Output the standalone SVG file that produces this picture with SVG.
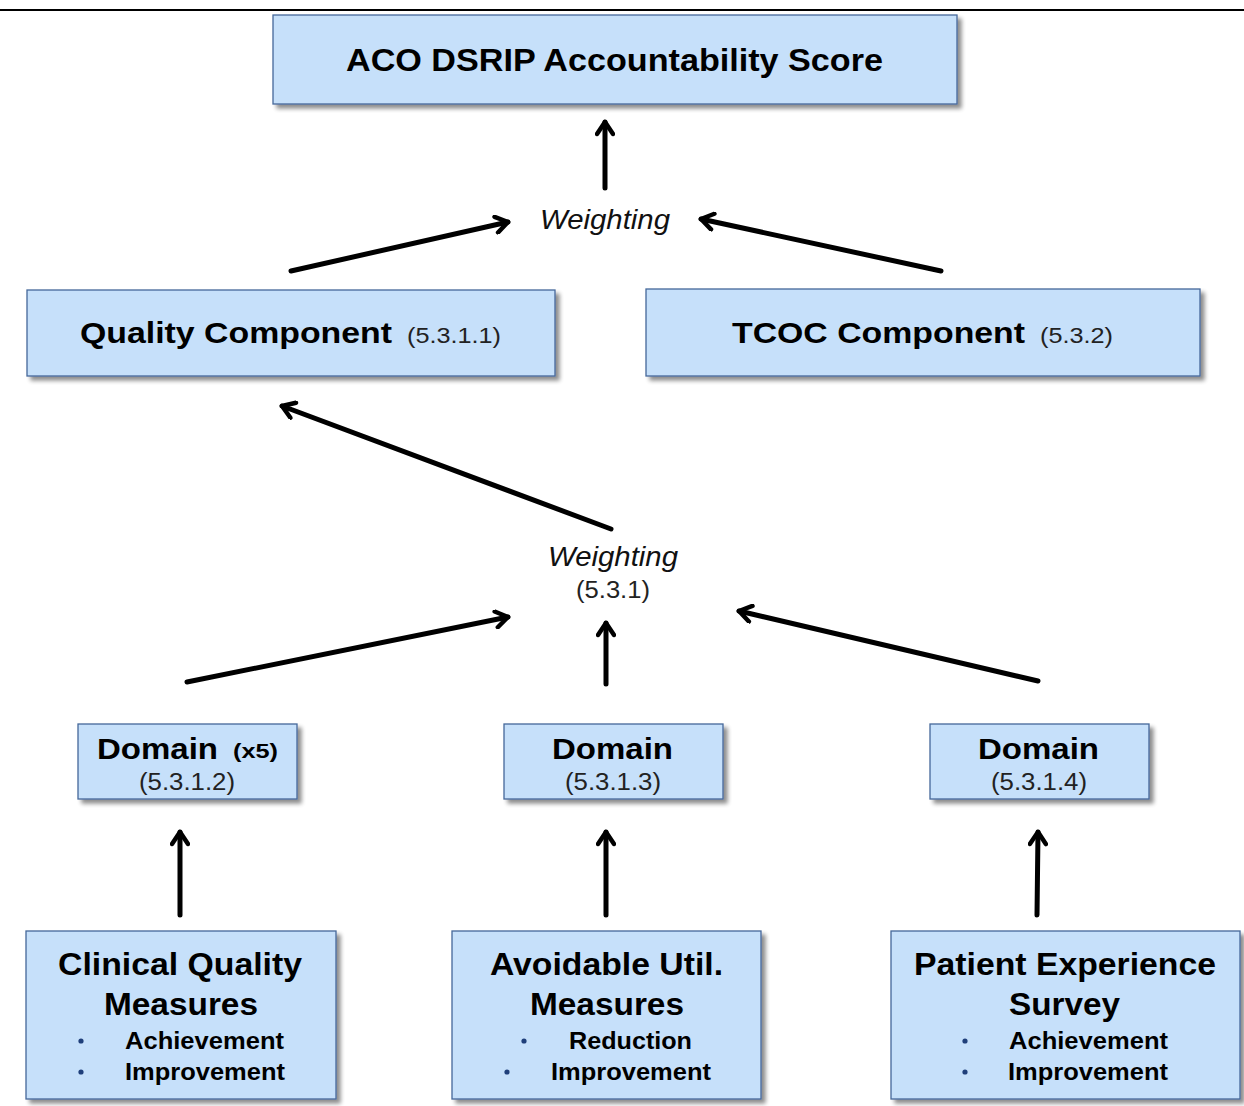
<svg xmlns="http://www.w3.org/2000/svg" width="1244" height="1106" viewBox="0 0 1244 1106">
<defs>
<filter id="sh" x="-10%" y="-10%" width="120%" height="130%">
<feGaussianBlur in="SourceAlpha" stdDeviation="2"/>
<feOffset dx="4" dy="4" result="b"/>
<feComponentTransfer><feFuncA type="linear" slope="0.45"/></feComponentTransfer>
<feMerge><feMergeNode/><feMergeNode in="SourceGraphic"/></feMerge>
</filter>
<marker id="ah" viewBox="0 0 20 20" refX="16" refY="10" markerWidth="20" markerHeight="20" markerUnits="userSpaceOnUse" orient="auto">
<path d="M4,2 L16,10 L4,18" fill="none" stroke="#000" stroke-width="4.5" stroke-linecap="round" stroke-linejoin="round"/>
</marker>
</defs>
<style>
.box{fill:#c6e0fa;stroke:#46689a;stroke-width:1.3;filter:url(#sh)}
text{font-family:"Liberation Sans",Arial,sans-serif}
.t{font-weight:bold;fill:#000}
.r{fill:#222}
.w{font-style:italic;fill:#111}
.b{fill:#1f3f7a}
.c line{stroke:#000;stroke-width:5;stroke-linecap:round;marker-end:url(#ah)}
</style>
<rect width="1244" height="1106" fill="#fff"/>
<line x1="0" y1="10" x2="1244" y2="10" stroke="#000" stroke-width="2"/>

<g id="aco">
<rect class="box" x="273" y="15" width="684" height="89"/>
<text class="t" x="346" y="71" font-size="31" textLength="537" lengthAdjust="spacingAndGlyphs">ACO DSRIP Accountability Score</text>
</g>

<g id="quality">
<rect class="box" x="27" y="290" width="528" height="86"/>
<text class="t" x="80" y="343" font-size="30" textLength="312" lengthAdjust="spacingAndGlyphs">Quality Component</text>
<text class="r" x="407" y="343" font-size="22" textLength="94" lengthAdjust="spacingAndGlyphs">(5.3.1.1)</text>
</g>

<g id="tcoc">
<rect class="box" x="646" y="289" width="554" height="87"/>
<text class="t" x="732" y="343" font-size="30" textLength="293" lengthAdjust="spacingAndGlyphs">TCOC Component</text>
<text class="r" x="1040" y="343" font-size="22" textLength="73" lengthAdjust="spacingAndGlyphs">(5.3.2)</text>
</g>

<g id="weighting1">
<text class="w" x="540" y="229" font-size="27" textLength="130" lengthAdjust="spacingAndGlyphs">Weighting</text>
</g>

<g id="weighting2">
<text class="w" x="548" y="566" font-size="27" textLength="130" lengthAdjust="spacingAndGlyphs">Weighting</text>
<text class="r" x="576" y="598" font-size="23" textLength="74" lengthAdjust="spacingAndGlyphs">(5.3.1)</text>
</g>

<g id="domain1">
<rect class="box" x="78" y="724" width="219" height="75"/>
<text class="t" x="97" y="759" font-size="30" textLength="121" lengthAdjust="spacingAndGlyphs">Domain</text>
<text class="t" x="233" y="758" font-size="21" textLength="45" lengthAdjust="spacingAndGlyphs">(x5)</text>
<text class="r" x="139" y="790" font-size="23" textLength="96" lengthAdjust="spacingAndGlyphs">(5.3.1.2)</text>
</g>

<g id="domain2">
<rect class="box" x="504" y="724" width="219" height="75"/>
<text class="t" x="552" y="759" font-size="30" textLength="121" lengthAdjust="spacingAndGlyphs">Domain</text>
<text class="r" x="565" y="790" font-size="23" textLength="96" lengthAdjust="spacingAndGlyphs">(5.3.1.3)</text>
</g>

<g id="domain3">
<rect class="box" x="930" y="724" width="219" height="75"/>
<text class="t" x="978" y="759" font-size="30" textLength="121" lengthAdjust="spacingAndGlyphs">Domain</text>
<text class="r" x="991" y="790" font-size="23" textLength="96" lengthAdjust="spacingAndGlyphs">(5.3.1.4)</text>
</g>

<g id="clinical">
<rect class="box" x="26" y="931" width="310" height="168"/>
<text class="t" x="58" y="975" font-size="31" textLength="244" lengthAdjust="spacingAndGlyphs">Clinical Quality</text>
<text class="t" x="104" y="1015" font-size="31" textLength="154" lengthAdjust="spacingAndGlyphs">Measures</text>
<circle class="b" cx="81" cy="1041" r="2.6"/>
<circle class="b" cx="81" cy="1072" r="2.6"/>
<text class="t" x="125" y="1049" font-size="23" textLength="159" lengthAdjust="spacingAndGlyphs">Achievement</text>
<text class="t" x="125" y="1080" font-size="23" textLength="160" lengthAdjust="spacingAndGlyphs">Improvement</text>
</g>

<g id="avoidable">
<rect class="box" x="452" y="931" width="309" height="168"/>
<text class="t" x="490" y="975" font-size="31" textLength="233" lengthAdjust="spacingAndGlyphs">Avoidable Util.</text>
<text class="t" x="530" y="1015" font-size="31" textLength="154" lengthAdjust="spacingAndGlyphs">Measures</text>
<circle class="b" cx="524" cy="1041" r="2.6"/>
<circle class="b" cx="507" cy="1072" r="2.6"/>
<text class="t" x="569" y="1049" font-size="23" textLength="123" lengthAdjust="spacingAndGlyphs">Reduction</text>
<text class="t" x="551" y="1080" font-size="23" textLength="160" lengthAdjust="spacingAndGlyphs">Improvement</text>
</g>

<g id="patient">
<rect class="box" x="891" y="931" width="349" height="168"/>
<text class="t" x="914" y="975" font-size="31" textLength="302" lengthAdjust="spacingAndGlyphs">Patient Experience</text>
<text class="t" x="1009" y="1015" font-size="31" textLength="111" lengthAdjust="spacingAndGlyphs">Survey</text>
<circle class="b" cx="965" cy="1041" r="2.6"/>
<circle class="b" cx="965" cy="1072" r="2.6"/>
<text class="t" x="1009" y="1049" font-size="23" textLength="159" lengthAdjust="spacingAndGlyphs">Achievement</text>
<text class="t" x="1008" y="1080" font-size="23" textLength="160" lengthAdjust="spacingAndGlyphs">Improvement</text>
</g>

<g id="connectors" class="c">
<line x1="605" y1="188" x2="605" y2="122"/>
<line x1="291" y1="271" x2="508" y2="222"/>
<line x1="941" y1="271" x2="701" y2="219"/>
<line x1="611" y1="529" x2="282" y2="406"/>
<line x1="187" y1="682" x2="508" y2="617"/>
<line x1="606" y1="684" x2="606" y2="623"/>
<line x1="1038" y1="681" x2="739" y2="611"/>
<line x1="180" y1="915" x2="180" y2="832"/>
<line x1="606" y1="915" x2="606" y2="832"/>
<line x1="1037" y1="915" x2="1038" y2="832"/>
</g>
</svg>
